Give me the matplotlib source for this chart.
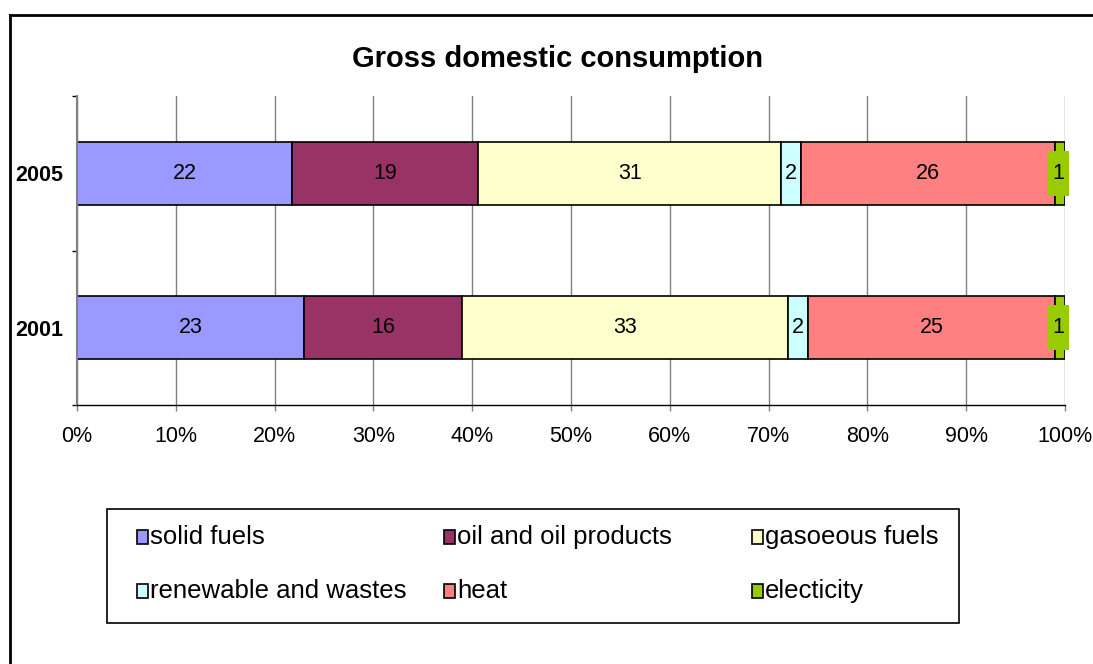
#!/usr/bin/env python3
"""Gross domestic consumption by energy source, 2001 vs 2005, as 100% stacked bars."""

import matplotlib

matplotlib.use("Agg")
import matplotlib.pyplot as plt
import numpy as np
from matplotlib.lines import Line2D
from matplotlib.patches import Rectangle

YEARS = ["2001", "2005"]
SOURCES = [
    "solid fuels",
    "oil and oil products",
    "gasoeous fuels",
    "renewable and wastes",
    "heat",
    "electicity",
]
COLORS = ["#9999FF", "#993366", "#FFFFCC", "#CCFFFF", "#FF8080", "#99CC00"]
SHARES_2001 = [23, 16, 33, 2, 25, 1]
SHARES_2005 = [22, 19, 31, 2, 26, 1]
X_TICKS = [0, 10, 20, 30, 40, 50, 60, 70, 80, 90, 100]
TITLE = "Gross domestic consumption"

# canvas size in pixels; layout below is given in pixel coordinates
W, H = 1093, 664
FONT = "Liberation Sans"
GRID = "#808080"


def fx(x: float) -> float:
    return x / W


def fy(y: float) -> float:
    return 1 - y / H


def draw_bars(ax, rows: list[list[int]]) -> None:
    ax_w_px = 1065 - 77
    ax_h_px = 405 - 96
    box_w = 21 / ax_w_px * 100
    box_h = 45 / (ax_h_px / len(rows))
    for i, values in enumerate(rows):
        pct = np.array(values, dtype=float) / sum(values) * 100
        left = np.concatenate([[0.0], np.cumsum(pct)[:-1]])
        for j, (width, start) in enumerate(zip(pct, left)):
            ax.barh(i, width, left=start, height=0.41, color=COLORS[j],
                    edgecolor="black", linewidth=1.2, zorder=2)
            cx = start + width / 2
            if width < 1.5:
                # label too wide for the segment: give it a filled background
                cx -= 0.2
                ax.add_patch(Rectangle((cx - box_w / 2, i - box_h / 2), box_w, box_h,
                                       facecolor=COLORS[j], edgecolor="none",
                                       zorder=3, clip_on=False))
            ax.text(cx, i, str(values[j]), ha="center", va="center",
                    fontsize=15.5, family=FONT, zorder=4)


def draw_legend(fig) -> None:
    fig.add_artist(Rectangle((fx(107), fy(623)), fx(959) - fx(107), fy(509) - fy(623),
                             fill=False, edgecolor="black", linewidth=1.2,
                             transform=fig.transFigure))
    col_x = [150, 457, 765]
    row_y = [537, 591]
    for k, (name, color) in enumerate(zip(SOURCES, COLORS)):
        tx = col_x[k % 3]
        ty = row_y[k // 3]
        fig.add_artist(Rectangle((fx(tx - 13), fy(ty + 7)), 11 / W, 14 / H,
                                 facecolor=color, edgecolor="black", linewidth=1.2,
                                 transform=fig.transFigure))
        fig.text(fx(tx), fy(ty), name, ha="left", va="center",
                 fontsize=18.5, family=FONT)


def main() -> int:
    fig = plt.figure(figsize=(W / 100, H / 100), dpi=100)
    ax = fig.add_axes([fx(77), fy(405), (1065 - 77) / W, (405 - 96) / H])

    draw_bars(ax, [SHARES_2001, SHARES_2005])

    ax.set_xlim(0, 100)
    ax.set_ylim(-0.5, len(YEARS) - 0.5)
    ax.set_xticks(X_TICKS)
    ax.set_xticklabels([f"{t}%" for t in X_TICKS], fontsize=15.5, family=FONT)
    ax.xaxis.grid(True, color=GRID, linewidth=1)
    ax.set_axisbelow(True)
    ax.tick_params(axis="x", length=4.3, color=GRID, width=1, pad=11)

    ax.set_yticks(range(len(YEARS)))
    ax.set_yticklabels(YEARS, fontsize=15.5, family=FONT, fontweight="bold")
    ax.tick_params(axis="y", which="major", length=0, pad=10)
    ax.set_yticks(np.arange(len(YEARS) + 1) - 0.5, minor=True)
    ax.tick_params(axis="y", which="minor", length=3.6, color="black", width=1)

    for side in ("top", "right"):
        ax.spines[side].set_visible(False)
    ax.spines["left"].set_color(GRID)
    ax.spines["left"].set_linewidth(1.5)
    ax.spines["bottom"].set_color("black")
    ax.spines["bottom"].set_linewidth(1)

    fig.text(fx(558), fy(59), TITLE, ha="center", va="center",
             fontsize=21, fontweight="bold", family=FONT)

    # outer frame, only the top and left edges are inside the canvas
    fig.add_artist(Line2D([fx(10), 1], [fy(15), fy(15)], color="black", linewidth=2,
                          transform=fig.transFigure))
    fig.add_artist(Line2D([fx(10), fx(10)], [fy(15), 0], color="black", linewidth=2,
                          transform=fig.transFigure))

    draw_legend(fig)

    fig.savefig("out.png", dpi=100, facecolor="white")
    plt.close(fig)
    return 0


if __name__ == "__main__":
    raise SystemExit(main())
